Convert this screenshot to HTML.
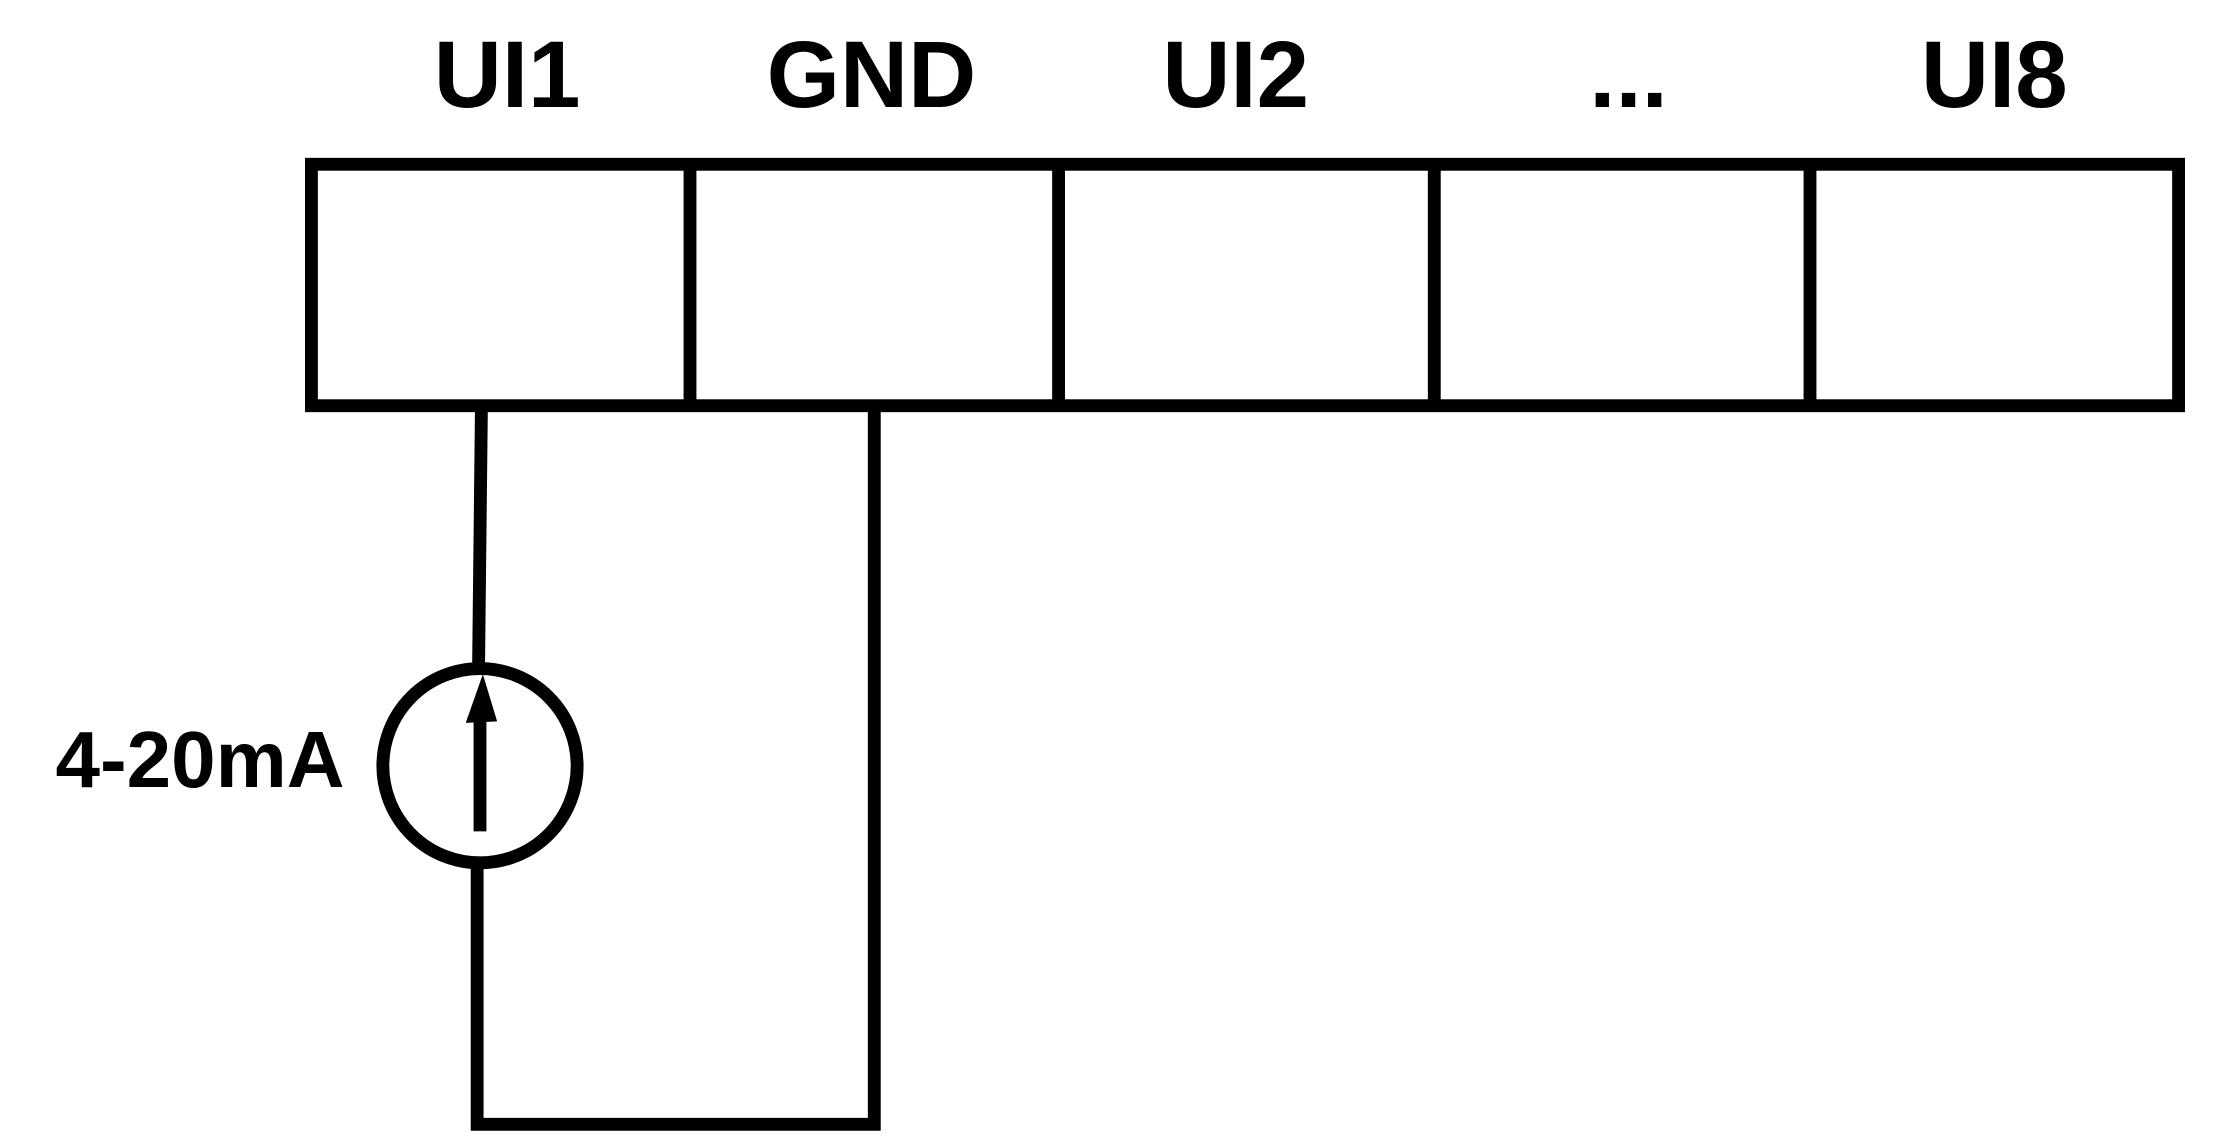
<!DOCTYPE html>
<html><head><meta charset="utf-8"><style>html,body{margin:0;padding:0;background:#fff}svg{display:block}</style></head>
<body>
<svg width="2240" height="1140" viewBox="0 0 1568 798" preserveAspectRatio="none" xmlns="http://www.w3.org/2000/svg">
<g font-family="Liberation Sans, sans-serif" font-weight="bold" font-size="66" text-anchor="middle" fill="#000">
<text x="355" y="75">UI1</text>
<text x="610" y="75">GND</text>
<text x="865" y="75">UI2</text>
<text x="1140" y="75">...</text>
<text x="1396" y="75">UI8</text>
<text x="140" y="551" font-size="56">4-20mA</text>
</g>
<g stroke="#000" stroke-width="9" fill="none">
<rect x="218" y="115" width="1307" height="169"/>
<line x1="483" y1="115" x2="483" y2="284"/>
<line x1="741" y1="115" x2="741" y2="284"/>
<line x1="1004" y1="115" x2="1004" y2="284"/>
<line x1="1267" y1="115" x2="1267" y2="284"/>
<line x1="337" y1="284" x2="335" y2="466"/>
<circle cx="336" cy="536" r="68"/>
<line x1="336" y1="582" x2="336" y2="505"/>
<polyline points="334,604 334,787 612,787 612,284"/>
</g>
<polygon points="338,472 326,506 348,505" fill="#000"/>
</svg>
</body></html>
